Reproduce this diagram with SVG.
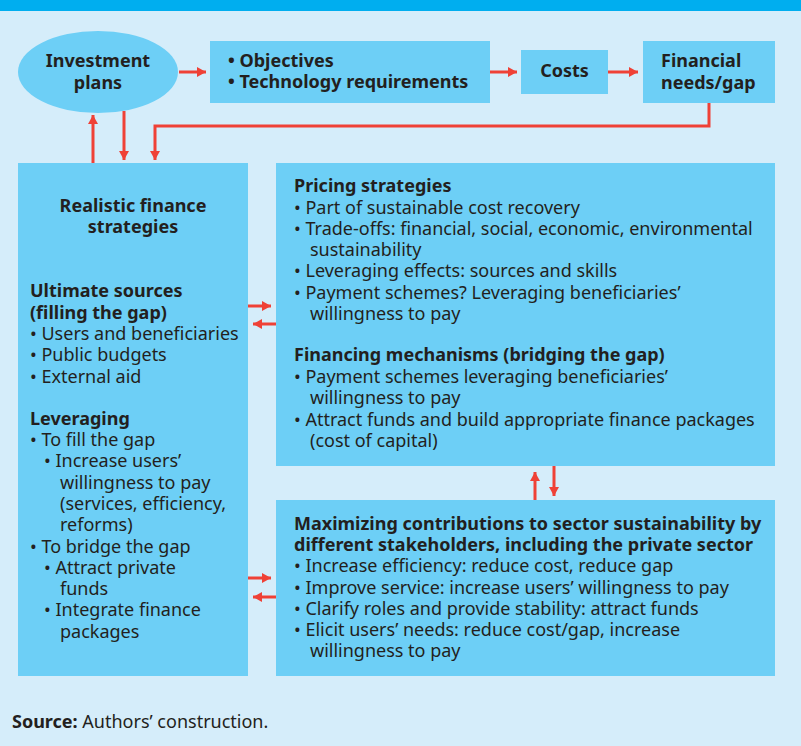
<svg xmlns="http://www.w3.org/2000/svg" width="801" height="746" viewBox="0 0 801 746">
  <style>
    .bg { fill: #D5EDFA; }
    .band { fill: #00AEEF; }
    .node { fill: #6DCFF6; }
    text { font-family: "Noto Sans", "Open Sans", sans-serif; font-size: 18px; fill: #231F20; }
    .b { font-weight: bold; }
    .c { text-anchor: middle; }
    .link { stroke: #EF4136; stroke-width: 3; fill: none; }
  </style>
  <defs>
    <marker id="arrow" viewBox="0 0 9 10" refX="9" refY="5" markerWidth="3" markerHeight="3.33" orient="auto" markerUnits="strokeWidth">
      <path d="M0,0 L9,5 L0,10 z" fill="#EF4136"/>
    </marker>
  </defs>

  <rect class="bg" x="0" y="0" width="801" height="746"/>
  <rect class="band" x="0" y="0" width="801" height="11"/>

  <g id="investment-plans">
    <ellipse class="node" cx="98" cy="72" rx="80" ry="41"/>
    <text class="b c" x="98" y="67">Investment</text>
    <text class="b c" x="98" y="89">plans</text>
  </g>

  <g id="objectives">
    <rect class="node" x="210" y="41" width="280" height="62"/>
    <text class="b" x="228" y="67">• Objectives</text>
    <text class="b" x="228" y="88">• Technology requirements</text>
  </g>

  <g id="costs">
    <rect class="node" x="521" y="50" width="87" height="44"/>
    <text class="b c" x="564.5" y="77">Costs</text>
  </g>

  <g id="financial-needs">
    <rect class="node" x="643" y="41" width="132" height="62"/>
    <text class="b" x="661" y="67">Financial</text>
    <text class="b" x="661" y="89">needs/gap</text>
  </g>

  <g id="realistic-finance-strategies">
    <rect class="node" x="18" y="163" width="230" height="513"/>
    <text class="b c" x="133" y="212">Realistic finance</text>
    <text class="b c" x="133" y="233">strategies</text>
    <text class="b" x="30" y="297">Ultimate sources</text>
    <text class="b" x="30" y="319">(filling the gap)</text>
    <text x="30" y="340">• Users and beneficiaries</text>
    <text x="30" y="361">• Public budgets</text>
    <text x="30" y="383">• External aid</text>
    <text class="b" x="30" y="425">Leveraging</text>
    <text x="30" y="446">• To fill the gap</text>
    <text x="44" y="467">• Increase users’</text>
    <text x="60" y="489">willingness to pay</text>
    <text x="60" y="510">(services, efficiency,</text>
    <text x="60" y="531">reforms)</text>
    <text x="30" y="553">• To bridge the gap</text>
    <text x="44" y="574">• Attract private</text>
    <text x="60" y="595">funds</text>
    <text x="44" y="616">• Integrate finance</text>
    <text x="60" y="638">packages</text>
  </g>

  <g id="pricing-and-financing">
    <rect class="node" x="276" y="163" width="499" height="303"/>
    <text class="b" x="294" y="192">Pricing strategies</text>
    <text x="294" y="214">• Part of sustainable cost recovery</text>
    <text x="294" y="235">• Trade-offs: financial, social, economic, environmental</text>
    <text x="310" y="256">sustainability</text>
    <text x="294" y="277">• Leveraging effects: sources and skills</text>
    <text x="294" y="299">• Payment schemes? Leveraging beneficiaries’</text>
    <text x="310" y="320">willingness to pay</text>
    <text class="b" x="294" y="361">Financing mechanisms (bridging the gap)</text>
    <text x="294" y="383">• Payment schemes leveraging beneficiaries’</text>
    <text x="310" y="404">willingness to pay</text>
    <text x="294" y="426">• Attract funds and build appropriate finance packages</text>
    <text x="310" y="447">(cost of capital)</text>
  </g>

  <g id="stakeholder-contributions">
    <rect class="node" x="276" y="500" width="499" height="176"/>
    <text class="b" x="294" y="530">Maximizing contributions to sector sustainability by</text>
    <text class="b" x="294" y="551">different stakeholders, including the private sector</text>
    <text x="294" y="572">• Increase efficiency: reduce cost, reduce gap</text>
    <text x="294" y="594">• Improve service: increase users’ willingness to pay</text>
    <text x="294" y="615">• Clarify roles and provide stability: attract funds</text>
    <text x="294" y="636">• Elicit users’ needs: reduce cost/gap, increase</text>
    <text x="310" y="657">willingness to pay</text>
  </g>

  <g id="connectors">
    <line class="link" x1="179" y1="72" x2="206" y2="72" marker-end="url(#arrow)"/>
    <line class="link" x1="490" y1="72" x2="517" y2="72" marker-end="url(#arrow)"/>
    <line class="link" x1="608" y1="72" x2="638" y2="72" marker-end="url(#arrow)"/>
    <polyline class="link" points="709,103 709,126 155,126 155,160" marker-end="url(#arrow)"/>
    <line class="link" x1="93" y1="163" x2="93" y2="115" marker-end="url(#arrow)"/>
    <line class="link" x1="124" y1="111" x2="124" y2="160" marker-end="url(#arrow)"/>
    <line class="link" x1="248" y1="306" x2="271" y2="306" marker-end="url(#arrow)"/>
    <line class="link" x1="276" y1="324" x2="253" y2="324" marker-end="url(#arrow)"/>
    <line class="link" x1="248" y1="578" x2="271" y2="578" marker-end="url(#arrow)"/>
    <line class="link" x1="276" y1="597" x2="253" y2="597" marker-end="url(#arrow)"/>
    <line class="link" x1="535" y1="500" x2="535" y2="472" marker-end="url(#arrow)"/>
    <line class="link" x1="554" y1="466" x2="554" y2="496" marker-end="url(#arrow)"/>
  </g>

  <text x="12" y="728"><tspan class="b">Source:</tspan> Authors’ construction.</text>
</svg>
